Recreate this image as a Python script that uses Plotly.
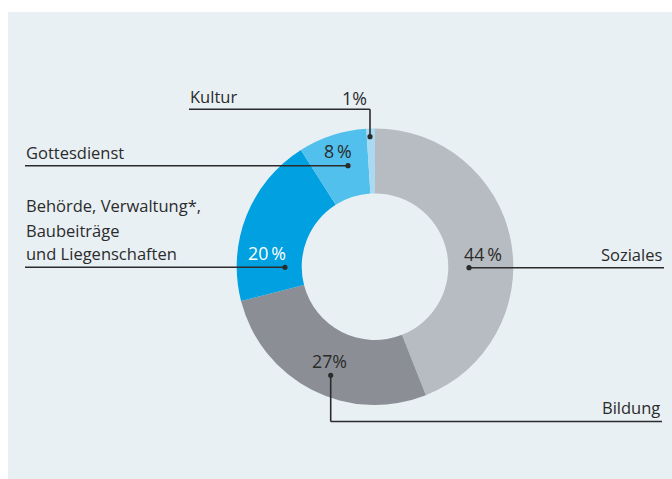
import plotly.graph_objects as go

# ---- data ----
categories = ["Soziales", "Bildung", "Behörde, Verwaltung*, Baubeiträge und Liegenschaften", "Gottesdienst", "Kultur"]
shares = [44, 27, 20, 8, 1]
pct_labels = ["44\u2009%", "27%", "20\u2009%", "8\u2009%", "1%"]
colors = ["#b6bcc1", "#8b8f95", "#00a0e1", "#52c0ed", "#a9daf2"]

W, H = 672, 479
FONT = "Open Sans"
TXT = "#2b2b2b"
FS = 16.5
FSP = 17.8


def px(x):
    return x / W


def py(y):
    return 1 - y / H


cx, cy, R = 375, 266.7, 138.3

fig = go.Figure()
fig.add_trace(go.Pie(
    labels=categories, values=shares, sort=False, direction="clockwise",
    rotation=0, hole=0.53, textinfo="none", hoverinfo="label+percent",
    marker=dict(colors=colors, line=dict(width=0)),
    domain=dict(x=[px(cx - R), px(cx + R)], y=[py(cy + R), py(cy - R)]),
    showlegend=False,
))

shapes = []
# panel background
shapes.append(dict(type="rect", xref="paper", yref="paper", x0=px(8), x1=1, y0=0, y1=py(12),
                   fillcolor="#e8f0f4", line=dict(width=0), layer="below"))

LC = "#2b2b2b"


def seg(x0, y0, x1, y1):
    shapes.append(dict(type="line", xref="paper", yref="paper", x0=px(x0), y0=py(y0), x1=px(x1), y1=py(y1),
                       line=dict(color=LC, width=1.6), layer="above"))


def dot(x, y, r=2.6):
    shapes.append(dict(type="circle", xref="paper", yref="paper", x0=px(x - r), x1=px(x + r),
                       y0=py(y + r), y1=py(y - r), fillcolor=LC, line=dict(width=0), layer="above"))


# leader lines
seg(189, 109.3, 370, 109.3); seg(370, 109.3, 370, 136.7); dot(370, 136.7)          # Kultur
seg(25, 165.7, 348, 165.7); dot(348, 165.7)                                       # Gottesdienst
seg(25, 267.3, 285, 267.3); dot(285, 267.3)                                       # Behörde
seg(469, 267.7, 664, 267.7); dot(469, 267.7)                                      # Soziales
seg(330.7, 375.3, 330.7, 421.5); seg(330.7, 421.5, 662, 421.5); dot(330.7, 375.3)  # Bildung

annotations = []


def txt(t, x, baseline, anchor, color=TXT, size=FS):
    annotations.append(dict(text=t, x=px(x), y=py(baseline - 0.3 * size), xref="paper", yref="paper",
                            xanchor=anchor, yanchor="middle", showarrow=False, borderpad=0,
                            font=dict(family=FONT, size=size, color=color)))


# category labels
txt(categories[4], 189.3, 101.7, "left")
txt(categories[3], 25, 157.7, "left")
txt("Behörde, Verwaltung*,", 25, 210, "left")
txt("Baubeiträge", 25, 235, "left")
txt("und Liegenschaften", 25, 258, "left")
txt(categories[0], 662.7, 259, "right")
txt(categories[1], 660.7, 412.7, "right")

# percentage labels
txt(pct_labels[4], 368, 103, "right", size=FSP)
txt(pct_labels[3], 323.3, 156.7, "left", size=FSP)
txt(pct_labels[2], 286.7, 258, "right", color="#ffffff", size=FSP)
txt(pct_labels[0], 463.3, 259.3, "left", size=FSP)
txt(pct_labels[1], 311, 366, "left", size=FSP)

fig.update_layout(
    width=W, height=H, margin=dict(l=0, r=0, t=0, b=0),
    paper_bgcolor="#ffffff", plot_bgcolor="#ffffff",
    shapes=shapes, annotations=annotations,
)

fig.write_html("out.html", config={"displayModeBar": False},
               post_script="document.body.style.margin='0';document.body.style.overflow='hidden';")
